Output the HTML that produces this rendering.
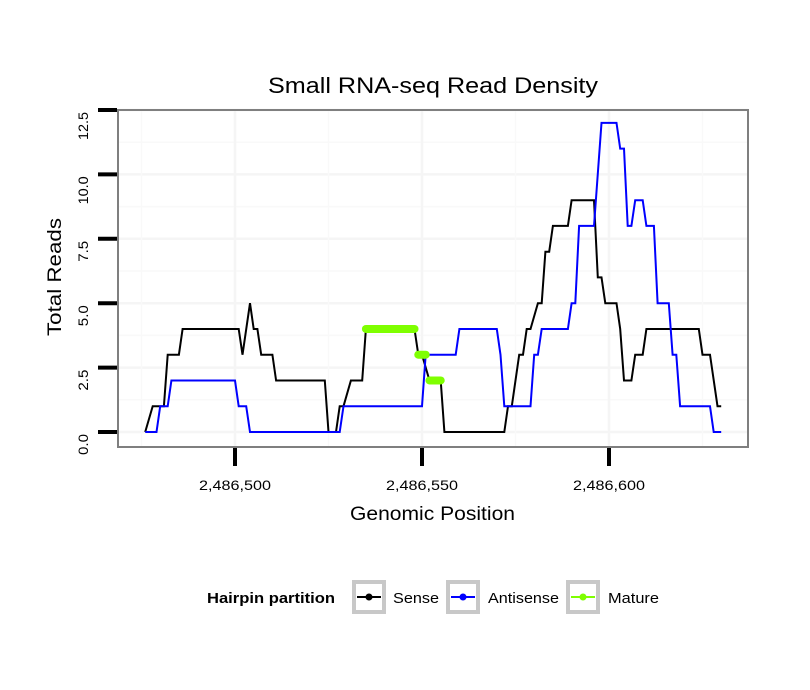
<!DOCTYPE html>
<html><head><meta charset="utf-8"><style>
body{margin:0;background:#fff;}
svg{display:block;font-family:"Liberation Sans",Arial,sans-serif;}
</style></head><body>
<svg id="chart" width="810" height="690" viewBox="0 0 810 690">
<rect width="810" height="690" fill="#fff"/>
<text x="268" y="93" font-size="22" textLength="330" lengthAdjust="spacingAndGlyphs">Small RNA-seq Read Density</text>
<g id="grid"></g>
<g id="series"></g>
<rect x="118" y="110" width="630" height="337" fill="none" stroke="#7f7f7f" stroke-width="2"/>
<g id="axes"></g>
<text x="350" y="520" font-size="19" textLength="165" lengthAdjust="spacingAndGlyphs">Genomic Position</text>
<text transform="translate(61,336) rotate(-90)" font-size="19" textLength="118" lengthAdjust="spacingAndGlyphs">Total Reads</text>
<g>
<text x="207" y="603" font-size="15" font-weight="bold" textLength="128" lengthAdjust="spacingAndGlyphs">Hairpin partition</text>
<g>
<rect x="354" y="582" width="30" height="30" fill="#fff" stroke="#c8c8c8" stroke-width="4"/>
<line x1="357" y1="597" x2="381" y2="597" stroke="#000" stroke-width="2"/><circle cx="369" cy="597" r="3.5" fill="#000"/>
<text x="393" y="603" font-size="15" textLength="46" lengthAdjust="spacingAndGlyphs">Sense</text></g>
<g>
<rect x="448" y="582" width="30" height="30" fill="#fff" stroke="#c8c8c8" stroke-width="4"/>
<line x1="451" y1="597" x2="475" y2="597" stroke="#0000ff" stroke-width="2"/><circle cx="463" cy="597" r="3.5" fill="#0000ff"/>
<text x="488" y="603" font-size="15" textLength="71" lengthAdjust="spacingAndGlyphs">Antisense</text></g>
<g>
<rect x="568" y="582" width="30" height="30" fill="#fff" stroke="#c8c8c8" stroke-width="4"/>
<line x1="571" y1="597" x2="595" y2="597" stroke="#7fff00" stroke-width="2"/><circle cx="583" cy="597" r="3.5" fill="#7fff00"/>
<text x="608" y="603" font-size="15" textLength="51" lengthAdjust="spacingAndGlyphs">Mature</text></g>
</g>
</svg>
<script>
const senseX=[476,478,481,482,485,486,501,502,504,505,506,507,510,511,524,525,527,528,529,531,534,535,548,549,550,552,555,556,572,573,574,576,577,578,579,581,582,583,584,585,589,590,596,597,598,599,602,603,604,606,607,609,610,624,625,627,629,630];
const senseY=[0,1,1,3,3,4,4,3,5,4,4,3,3,2,2,0,0,1,1,2,2,4,4,3,3,2,2,0,0,1,1,3,3,4,4,5,5,7,7,8,8,9,9,6,6,5,5,4,2,2,3,3,4,4,3,3,1,1];
const antiX=[476,479,480,482,483,500,501,503,504,528,529,550,551,559,560,570,571,572,579,580,581,582,589,590,591,592,596,598,602,603,604,605,606,607,609,610,612,613,616,617,618,619,627,628,630];
const antiY=[0,0,1,1,2,2,1,1,0,0,1,1,3,3,4,4,3,1,1,3,3,4,4,5,5,8,8,12,12,11,11,8,8,9,9,8,8,5,5,3,3,1,1,0,0];
const matureStart=[535,549,552];
const matureEnd=[548,551,555];
const matureVal=[4,3,2];
const yTicks=[0,2.5,5,7.5,10,12.5];
const yTickLabels=["0.0","2.5","5.0","7.5","10.0","12.5"];
const xTicks=[2486500,2486550,2486600];
const xTickLabels=["2,486,500","2,486,550","2,486,600"];
const xMinor=[475,525,575,625];

const NS="http://www.w3.org/2000/svg";
const sx=p=>235+(p-500)*3.74;
const sy=v=>432-v*25.76;
function mk(tag,attrs,parent){const e=document.createElementNS(NS,tag);for(const k in attrs)e.setAttribute(k,attrs[k]);document.getElementById(parent).appendChild(e);return e;}

for(let i=0;i<yTicks.length;i++){
  const g=mk('line',{x1:118,x2:748,y1:sy(yTicks[i]),y2:sy(yTicks[i]),stroke:'#f5f5f5','stroke-width':2.5},'grid');
  
  
  if(i<yTicks.length-1){
    const m=mk('line',{x1:118,x2:748,y1:sy(yTicks[i]+1.25),y2:sy(yTicks[i]+1.25),stroke:'#f9f9f9','stroke-width':1.5},'grid');
    
    
  }
}
xTicks.forEach(t=>{
  const g=mk('line',{x1:sx(t-2486000),x2:sx(t-2486000),y1:110,y2:447,stroke:'#f5f5f5','stroke-width':2.5},'grid');
  
  
});
xMinor.forEach(t=>{
  const g=mk('line',{x1:sx(t),x2:sx(t),y1:110,y2:447,stroke:'#f9f9f9','stroke-width':1.5},'grid');
  
  
});

function pts(xs,ys){return xs.map((x,i)=>sx(x).toFixed(1)+','+sy(ys[i]).toFixed(1)).join(' ');}
const s=mk('polyline',{points:pts(senseX,senseY),fill:'none',stroke:'#000','stroke-width':2},'series');


const a=mk('polyline',{points:pts(antiX,antiY),fill:'none',stroke:'#0000ff','stroke-width':2},'series');


for(let i=0;i<matureStart.length;i++){
  const m=mk('line',{x1:sx(matureStart[i]),x2:sx(matureEnd[i]),y1:sy(matureVal[i]),y2:sy(matureVal[i]),stroke:'#7fff00','stroke-width':8,'stroke-linecap':'round'},'series');
  
  
}

yTicks.forEach((t,i)=>{
  const tk=mk('line',{x1:98,x2:117,y1:sy(t),y2:sy(t),stroke:'#000','stroke-width':4},'axes');
  
  
  const y=sy(t)+2+yTickLabels[i].length*7;
  const lb=mk('text',{transform:`translate(88,${y}) rotate(-90)`,'font-size':14,'textLength':yTickLabels[i].length*7,'lengthAdjust':'spacingAndGlyphs'},'axes');
  lb.textContent=yTickLabels[i];
  
  
});
xTicks.forEach((t,i)=>{
  const x=sx(t-2486000);
  const tk=mk('line',{x1:x,x2:x,y1:448,y2:466,stroke:'#000','stroke-width':4},'axes');
  
  
  const lb=mk('text',{x:x-36,y:490,'font-size':14,'textLength':72,'lengthAdjust':'spacingAndGlyphs'},'axes');
  lb.textContent=xTickLabels[i];
  
  
});
</script>
</body></html>
